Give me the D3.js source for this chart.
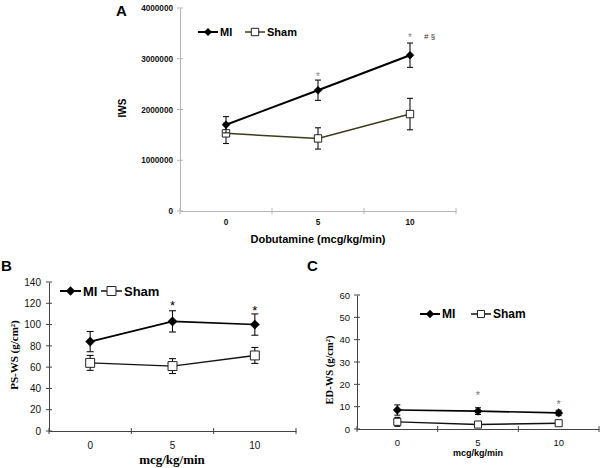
<!DOCTYPE html>
<html>
<head>
<meta charset="utf-8">
<script src="https://cdn.jsdelivr.net/npm/d3@7"></script>
<style>
  html, body { margin: 0; padding: 0; background: #fff; }
  svg { display: block; }
</style>
</head>
<body>
<div id="chart"></div>
<script>
// Dobutamine doses (x categories)
const doses = ["0", "5", "10"];

// Panel A: IWS
const iwsMI = [1700000, 2380000, 3070000];
const iwsMIErr = [160000, 200000, 240000];
const iwsSham = [1530000, 1430000, 1910000];
const iwsShamErr = [200000, 210000, 310000];
const iwsTicks = [0, 1000000, 2000000, 3000000, 4000000];

// Panel B: PS-WS
const psMI = [84, 103, 100];
const psMIErr = [9.5, 10, 10];
const psSham = [64, 61, 71];
const psShamErr = [7, 7, 7.5];
const psTicks = [0, 20, 40, 60, 80, 100, 120, 140];

// Panel C: ED-WS
const edMI = [8.5, 8, 7.2];
const edMIErr = [2.3, 1.5, 1.2];
const edSham = [3.2, 2.0, 2.6];
const edShamErr = [2, 0.8, 0.8];
const edTicks = [0, 10, 20, 30, 40, 50, 60];

const W = 600, H = 468;
const svg = d3.select("#chart").append("svg")
  .attr("width", W).attr("height", H)
  .attr("viewBox", `0 0 ${W} ${H}`);

const SANS = "'Liberation Sans', Arial, sans-serif";
const SERIF = "'Liberation Serif', 'Times New Roman', serif";

function drawPanel(p) {
  const g = svg.append("g");
  const x = d3.scaleBand().domain(doses).range(p.xRange).padding(0);
  const y = d3.scaleLinear().domain([0, p.yTicks[p.yTicks.length - 1]]).range(p.yRange);

  // y axis: line + cross ticks + labels
  const yAxis = d3.axisLeft(y).tickValues(p.yTicks).tickSize(0).tickPadding(p.yLabelPad)
    .tickFormat(d3.format("d"));
  const ya = g.append("g").attr("transform", `translate(${p.xRange[0]},0)`).call(yAxis);
  ya.select(".domain").attr("stroke", p.axisColor);
  ya.selectAll("text")
    .attr("font-family", SANS).attr("font-size", p.tickFont)
    .attr("font-weight", p.tickBold ? "bold" : "normal").attr("fill", "#111");
  g.selectAll("line.ytick").data(p.yTicks).join("line")
    .attr("class", "ytick")
    .attr("x1", p.xRange[0] - 3).attr("x2", p.xRange[0] + 3)
    .attr("y1", d => y(d)).attr("y2", d => y(d))
    .attr("stroke", p.axisColor);

  // x axis
  const xAxis = d3.axisBottom(x).tickSize(0).tickPadding(p.xLabelPad);
  const xa = g.append("g").attr("transform", `translate(0,${p.yRange[0]})`).call(xAxis);
  xa.select(".domain").attr("stroke", p.axisColor);
  xa.selectAll("text")
    .attr("font-family", SANS).attr("font-size", p.tickFont)
    .attr("font-weight", p.tickBold ? "bold" : "normal").attr("fill", "#111");
  const edges = doses.map(d => x(d)).concat([x(doses[doses.length - 1]) + x.bandwidth()]);
  g.selectAll("line.xtick").data(edges).join("line")
    .attr("class", "xtick")
    .attr("x1", d => d).attr("x2", d => d)
    .attr("y1", p.yRange[0] - 3).attr("y2", p.yRange[0] + 3)
    .attr("stroke", p.axisColor);

  const cx = d => x(d) + x.bandwidth() / 2;

  // series
  const series = [
    { vals: p.sham, err: p.shamErr, color: p.shamColor, width: p.shamWidth, kind: "square" },
    { vals: p.mi, err: p.miErr, color: "#000", width: p.miWidth, kind: "diamond" }
  ];
  series.forEach(s => {
    const pts = doses.map((d, i) => ({ d, v: s.vals[i], e: s.err[i] }));
    g.append("path").datum(pts)
      .attr("fill", "none").attr("stroke", s.color).attr("stroke-width", s.width)
      .attr("d", d3.line().x(q => cx(q.d)).y(q => y(q.v)));
    const eb = g.append("g");
    pts.forEach(q => {
      const x0 = cx(q.d), cap = p.cap;
      eb.append("line").attr("x1", x0).attr("x2", x0)
        .attr("y1", y(q.v + q.e)).attr("y2", y(q.v - q.e));
      eb.append("line").attr("x1", x0 - cap).attr("x2", x0 + cap)
        .attr("y1", y(q.v + q.e)).attr("y2", y(q.v + q.e));
      eb.append("line").attr("x1", x0 - cap).attr("x2", x0 + cap)
        .attr("y1", y(q.v - q.e)).attr("y2", y(q.v - q.e));
    });
    eb.selectAll("line").attr("stroke", "#111").attr("stroke-width", 1.1);
    const sym = s.kind === "diamond"
      ? d3.symbol(d3.symbolDiamond2, p.diamondSize)
      : d3.symbol(d3.symbolSquare, p.squareSize);
    g.selectAll(null).data(pts).join("path")
      .attr("transform", q => `translate(${cx(q.d)},${y(q.v)})`)
      .attr("d", sym)
      .attr("fill", s.kind === "diamond" ? "#000" : "#fff")
      .attr("stroke", s.kind === "diamond" ? "#000" : "#222")
      .attr("stroke-width", s.kind === "diamond" ? 0.5 : 1);
  });

  // significance marks
  p.stars.forEach(st => {
    g.append("text").attr("x", cx(st.dose)).attr("y", y(st.v))
      .attr("text-anchor", "middle").attr("font-family", SANS)
      .attr("font-size", p.starFont).attr("fill", p.starColor).text("*");
  });

  // legend
  const lg = g.append("g").attr("font-family", SANS).attr("font-weight", "bold")
    .attr("font-size", p.legFont).attr("fill", "#000");
  const L = p.legend;
  lg.append("line").attr("x1", L.miX).attr("x2", L.miX + L.len).attr("y1", L.y).attr("y2", L.y)
    .attr("stroke", "#000").attr("stroke-width", 2);
  lg.append("path").attr("transform", `translate(${L.miX + L.len / 2},${L.y})`)
    .attr("d", d3.symbol(d3.symbolDiamond2, p.diamondSize)).attr("fill", "#000");
  lg.append("text").attr("x", L.miX + L.len + 2).attr("y", L.y).attr("dy", "0.36em").text("MI");
  lg.append("line").attr("x1", L.shX).attr("x2", L.shX + L.len).attr("y1", L.y).attr("y2", L.y)
    .attr("stroke", p.shamColor).attr("stroke-width", 1.5);
  lg.append("path").attr("transform", `translate(${L.shX + L.len / 2},${L.y})`)
    .attr("d", d3.symbol(d3.symbolSquare, p.squareSize))
    .attr("fill", "#fff").attr("stroke", "#222");
  lg.append("text").attr("x", L.shX + L.len + 2).attr("y", L.y).attr("dy", "0.36em")
    .attr("font-weight", L.shamWeight || "bold").text("Sham");

  // panel letter
  g.append("text").attr("x", p.letter.x).attr("y", p.letter.y)
    .attr("font-family", SANS).attr("font-weight", "bold").attr("font-size", 15)
    .text(p.letter.t);

  // axis titles
  const yt = g.append("text")
    .attr("transform", `translate(${p.yTitle.x},${p.yTitle.y}) rotate(-90)`)
    .attr("text-anchor", "middle").attr("font-family", p.yTitle.font)
    .attr("font-weight", "bold").attr("font-size", p.yTitle.size);
  yt.text(p.yTitle.t);
  if (p.yTitle.sup) {
    yt.append("tspan").attr("baseline-shift", "super").attr("font-size", p.yTitle.size * 0.6).text(p.yTitle.sup);
    yt.append("tspan").text(")");
  }
  g.append("text").attr("x", p.xTitle.x).attr("y", p.xTitle.y)
    .attr("text-anchor", "middle").attr("font-family", p.xTitle.font)
    .attr("font-weight", "bold").attr("font-size", p.xTitle.size)
    .text(p.xTitle.t);
  return { g, x, y, cx };
}

// Panel A
const A = drawPanel({
  xRange: [180, 456], yRange: [211, 8], yTicks: iwsTicks,
  axisColor: "#b5b5b5", tickFont: 8.2, tickBold: true, yLabelPad: 7, xLabelPad: 8,
  mi: iwsMI, miErr: iwsMIErr, sham: iwsSham, shamErr: iwsShamErr,
  shamColor: "#3b3b1c", miWidth: 2, shamWidth: 1.5, cap: 3,
  diamondSize: 40, squareSize: 55,
  stars: [{ dose: "5", v: 2580000 }, { dose: "10", v: 3350000 }],
  starFont: 10, starColor: "#888",
  legFont: 11, legend: { y: 32, miX: 198, shX: 245, len: 20 },
  letter: { x: 116, y: 16, t: "A" },
  yTitle: { x: 126, y: 108, t: "IWS", font: SANS, size: 10 },
  xTitle: { x: 318, y: 243, t: "Dobutamine (mcg/kg/min)", font: SANS, size: 11 }
});
A.g.append("text").attr("x", 424).attr("y", 39)
  .attr("font-family", SANS).attr("font-size", 8).attr("fill", "#333").text("# §");

// Panel B
drawPanel({
  xRange: [49, 296], yRange: [431, 282], yTicks: psTicks,
  axisColor: "#444", tickFont: 10, tickBold: false, yLabelPad: 8, xLabelPad: 11,
  mi: psMI, miErr: psMIErr, sham: psSham, shamErr: psShamErr,
  shamColor: "#111", miWidth: 1.6, shamWidth: 1.4, cap: 3.5,
  diamondSize: 55, squareSize: 80,
  stars: [{ dose: "5", v: 114 }, { dose: "10", v: 109 }],
  starFont: 13, starColor: "#000",
  legFont: 13, legend: { y: 291, miX: 60, shX: 101, len: 21, shamWeight: 600 },
  letter: { x: 1, y: 271, t: "B" },
  yTitle: { x: 18, y: 355, t: "PS-WS (g/cm", sup: "2", font: SERIF, size: 11 },
  xTitle: { x: 172, y: 464, t: "mcg/kg/min", font: SERIF, size: 13 }
});

// Panel C
drawPanel({
  xRange: [357, 599], yRange: [429, 295], yTicks: edTicks,
  axisColor: "#444", tickFont: 9.5, tickBold: false, yLabelPad: 7, xLabelPad: 10,
  mi: edMI, miErr: edMIErr, sham: edSham, shamErr: edShamErr,
  shamColor: "#111", miWidth: 1.6, shamWidth: 1.4, cap: 3,
  diamondSize: 45, squareSize: 50,
  stars: [{ dose: "5", v: 13.5 }, { dose: "10", v: 9.5 }],
  starFont: 11, starColor: "#777",
  legFont: 12, legend: { y: 314, miX: 420, shX: 471, len: 20 },
  letter: { x: 307, y: 271, t: "C" },
  yTitle: { x: 333, y: 370, t: "ED-WS (g/cm", sup: "2", font: SERIF, size: 10.5 },
  xTitle: { x: 478, y: 456, t: "mcg/kg/min", font: SANS, size: 9 }
});
</script>
</body>
</html>
